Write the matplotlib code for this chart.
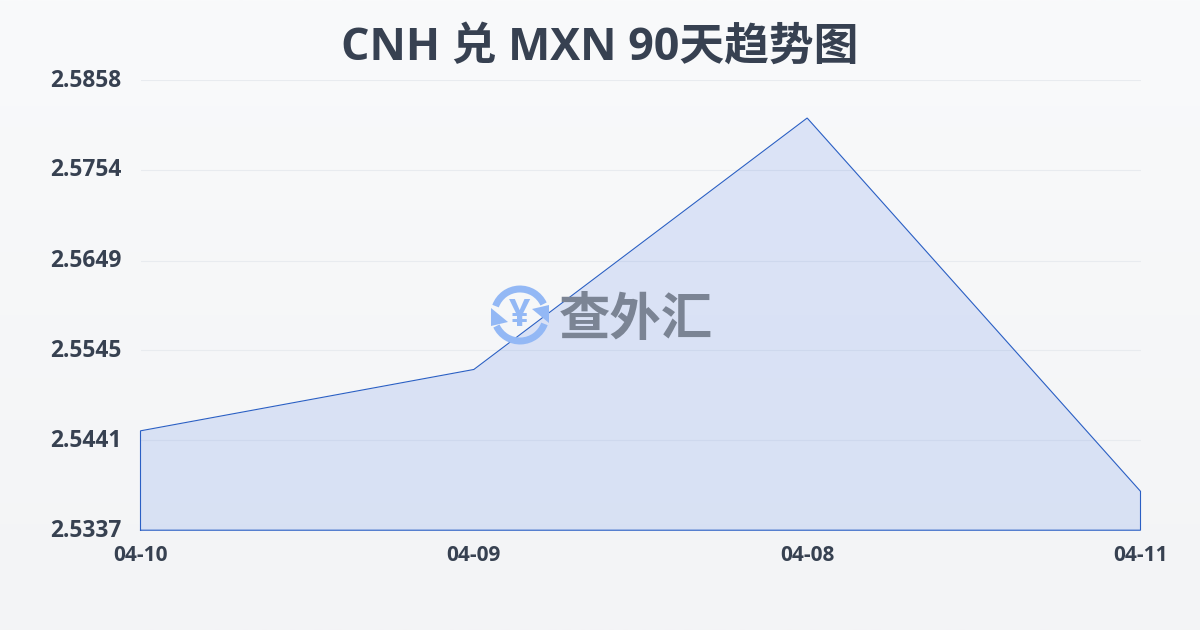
import numpy as np
import matplotlib
matplotlib.use('Agg')
import matplotlib.pyplot as plt
from matplotlib.patches import Arc, Polygon
from matplotlib.transforms import ScaledTranslation

plt.rcParams['font.family'] = ['Open Sans', 'Noto Sans CJK SC', 'DejaVu Sans']

dates = ['04-10', '04-09', '04-08', '04-11']
rates = [2.5452, 2.5523, 2.5814, 2.5382]
y_ticks = [2.5337, 2.5441, 2.5545, 2.5649, 2.5754, 2.5858]
y_tick_labels = ['2.5337', '2.5441', '2.5545', '2.5649', '2.5754', '2.5858']
title = 'CNH 兑 MXN 90天趋势图'
watermark = '查外汇'

W, H = 1200, 630
fig = plt.figure(figsize=(W / 100, H / 100), dpi=100)

# page background
bg = fig.add_axes([0, 0, 1, 1], zorder=0)
bg.axis('off')
grad = np.linspace(0, 1, 256)[:, None]
top, bot = np.array([249, 250, 251]) / 255, np.array([243, 244, 246]) / 255
bg.imshow((top + (bot - top) * grad[..., None]).reshape(256, 1, 3), aspect='auto',
          extent=[0, 1, 0, 1])

# plot area
left, right, ytop, ybot = 140.5, 1140.5, 80, 530.2
ax = fig.add_axes([left / W, 1 - ybot / H, (right - left) / W, (ybot - ytop) / H], zorder=1)
ax.patch.set_alpha(0)
x = np.arange(len(dates))
ax.set_xlim(0, len(dates) - 1)
ax.set_ylim(y_ticks[0], y_ticks[-1])
ax.yaxis.grid(True, color='#e8ebef', lw=0.8)
ax.set_axisbelow(True)
ax.fill_between(x, rates, y_ticks[0], color='#3b6fe8', alpha=0.15, lw=0, zorder=2)
ax.plot(np.r_[x[0], x, x[-1], x[0]], np.r_[y_ticks[0], rates, y_ticks[0], y_ticks[0]],
        color='#2a5fc4', lw=0.8, zorder=3, solid_joinstyle='miter', clip_on=False)
for s in ax.spines.values():
    s.set_visible(False)
ax.set_xticks(x, dates)
ax.set_yticks(y_ticks, y_tick_labels)
ax.tick_params(axis='x', length=0, pad=10.5, labelsize=15, labelcolor='#374151')
ax.tick_params(axis='y', length=0, pad=14, labelsize=16.4, labelcolor='#374151')
for t in ax.get_xticklabels() + ax.get_yticklabels():
    t.set_fontweight('bold')
shift = ScaledTranslation(0, 2.5 / 100, fig.dpi_scale_trans)
for t in ax.get_yticklabels():
    t.set_transform(t.get_transform() + shift)

# overlay in pixel coordinates
ov = fig.add_axes([0, 0, 1, 1], zorder=2)
ov.axis('off')
ov.set_xlim(0, W)
ov.set_ylim(H, 0)

ov.text(600, 48, title, ha='center', va='center', fontsize=32.25, fontweight='bold', color='#374151')

icon = '#93b8f5'
cx, cy, r = 520, 315, 26
ov.add_patch(Arc((cx, cy), 2 * r, 2 * r, theta1=200, theta2=335, color=icon, lw=5))
ov.add_patch(Arc((cx, cy), 2 * r, 2 * r, theta1=20, theta2=155, color=icon, lw=5))
ov.add_patch(Polygon([[549, 305], [532, 309], [549, 323]], color=icon, lw=0))
ov.add_patch(Polygon([[491, 326], [508, 322], [491, 308]], color=icon, lw=0))
ov.text(cx, cy + 1, '¥', ha='center', va='center', fontsize=27, fontweight='bold', color=icon)
ov.text(636, 322, watermark, ha='center', va='center', fontsize=37, fontweight='bold', color='#7b8494')

fig.savefig('out.png', dpi=100)
